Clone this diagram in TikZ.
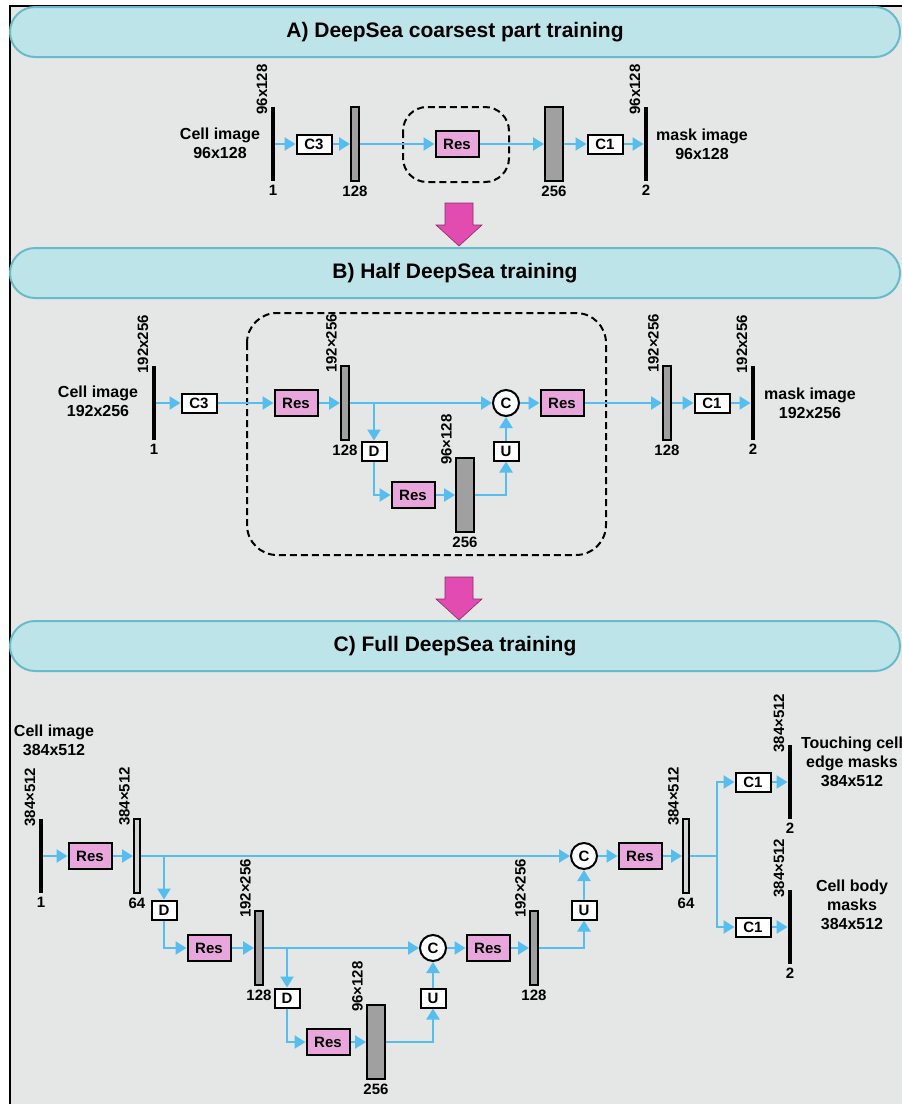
\documentclass[tikz,border=0pt]{standalone}
\usepackage{fontspec}
\setmainfont{Liberation Sans}
\usetikzlibrary{arrows.meta,positioning,calc}
\definecolor{paneback}{RGB}{229,230,230}
\definecolor{bannerfill}{RGB}{189,228,233}
\definecolor{bannerline}{RGB}{104,188,201}
\definecolor{resfill}{RGB}{232,166,220}
\definecolor{flowblue}{RGB}{86,190,238}
\definecolor{stagepink}{RGB}{226,75,176}
\definecolor{bargray}{RGB}{160,160,160}
\newcommand{\fsz}[2]{\bfseries\fontsize{#1}{#2}\selectfont}

\begin{document}
\begin{tikzpicture}[
    x=1pt, y=-1pt,
    banner/.style={draw=bannerline,line width=2pt,fill=bannerfill,rounded corners=25pt,minimum width=890pt,minimum height=50pt,font=\fsz{21}{24}},
    resblock/.style={draw,line width=2pt,fill=resfill,minimum width=43pt,minimum height=26pt,inner sep=0pt,font=\fsz{15}{17}},
    opbox/.style={draw,line width=2pt,fill=white,minimum width=35pt,minimum height=19pt,inner sep=0pt,font=\fsz{15}{17}},
    sampbox/.style={opbox,minimum width=25pt},
    catnode/.style={circle,draw,line width=2pt,fill=white,minimum size=26pt,inner sep=0pt,font=\fsz{15}{17}},
    fmap/.style={draw,line width=2pt,fill=bargray,minimum width=#1,minimum height=74pt,inner sep=0pt},
    fmap/.default=8pt,
    ioline/.style={fill=black,minimum width=4.5pt,minimum height=74pt,inner sep=0pt},
    dimlabel/.style={rotate=90,anchor=south west,inner sep=0pt,font=\fsz{15}{17}},
    sizenum/.style={inner sep=0pt,font=\fsz{15}{17}},
    labeltext/.style={align=center,inner sep=0pt,font=\fsz{16}{19}},
    flowarrow/.style={draw=flowblue,line width=2.3pt,-{Triangle[length=11pt,width=13pt]}},
    dashbox/.style={draw,dash pattern=on 7pt off 4pt,line width=2pt}
]
\useasboundingbox (0,0) rectangle (902,1104);
\clip (0,0) rectangle (902,1104);
\fill[paneback] (10,6) rectangle (910,1110);
\draw[line width=2.5pt] (10,1110) -- (10,6) -- (910,6);

% stage banners
\node[banner] (stageA) at (455,32) {A) DeepSea coarsest part training};
\node[banner] (stageB) at (455,273) {B) Half DeepSea training};
\node[banner] (stageC) at (455,646) {C) Full DeepSea training};
\filldraw[fill=stagepink,draw=stagepink!60!black,line width=0.6pt]
  (445,203) -- (473,203) -- (473,225) -- (482,225) -- (459,246) -- (436,225) -- (445,225) -- cycle;
\filldraw[fill=stagepink,draw=stagepink!60!black,line width=0.6pt]
  (445,577) -- (473,577) -- (473,599) -- (482,599) -- (459,620) -- (436,599) -- (445,599) -- cycle;

% A) coarsest part
\draw[dashbox,rounded corners=24pt] (403,107) rectangle (509,182);
\node[ioline] (inA) at (273,144) {};
\node[opbox] (c3A) at (314,144) {C3};
\node[fmap] (b1A) at (355,144) {};
\node[resblock] (resA) at (457,144) {Res};
\node[fmap=18pt] (b2A) at (554,144) {};
\node[opbox] (c1A) at (605,144) {C1};
\node[ioline] (outA) at (646,144) {};
\node[labeltext] (cellA) at (220,143) {Cell image\\96x128};
\node[labeltext] (maskA) at (702,144) {mask image\\96x128};
\node[dimlabel] at ($(inA.north west)+(-3,8)$) {96x128};
\node[dimlabel] at ($(outA.north west)+(-3,8)$) {96x128};
\node[sizenum,below=4pt of inA] {1};
\node[sizenum,below=4pt of b1A] {128};
\node[sizenum,below=4pt of b2A] {256};
\node[sizenum,below=4pt of outA] {2};
\draw[flowarrow] (inA) -- (c3A);
\draw[flowarrow] (c3A) -- (b1A);
\draw[flowarrow] (b1A) -- (resA);
\draw[flowarrow] (resA) -- (b2A);
\draw[flowarrow] (b2A) -- (c1A);
\draw[flowarrow] (c1A) -- (outA);

% B) half network
\draw[dashbox,rounded corners=30pt] (247,313) rectangle (606,555);
\node[ioline] (inB) at (154,403) {};
\node[opbox] (c3B) at (199,403) {C3};
\node[resblock] (res1B) at (296,403) {Res};
\node[fmap] (b1B) at (345,403) {};
\node[sampbox] (dB) at (374,451) {D};
\node[resblock] (res2B) at (413,495) {Res};
\node[fmap=18pt] (b2B) at (465,495) {};
\node[sampbox] (uB) at (506,451) {U};
\node[catnode] (catB) at (506,403) {C};
\node[resblock] (res3B) at (562,403) {Res};
\node[fmap] (b3B) at (667,403) {};
\node[opbox] (c1B) at (712,403) {C1};
\node[ioline] (outB) at (753,403) {};
\node[labeltext] (cellB) at (98,401) {Cell image\\192x256};
\node[labeltext] (maskB) at (810,403) {mask image\\192x256};
\node[dimlabel] at ($(inB.north west)+(-3,8)$) {192x256};
\node[dimlabel] at ($(b1B.north west)+(-3,8)$) {192×256};
\node[dimlabel] at ($(b2B.north west)+(-3,8)$) {96×128};
\node[dimlabel] at ($(b3B.north west)+(-3,8)$) {192×256};
\node[dimlabel] at ($(outB.north west)+(-3,8)$) {192x256};
\node[sizenum,below=4pt of inB] {1};
\node[sizenum,below=4pt of b1B] {128};
\node[sizenum,below=4pt of b2B] {256};
\node[sizenum,below=4pt of b3B] {128};
\node[sizenum,below=4pt of outB] {2};
\draw[flowarrow] (inB) -- (c3B);
\draw[flowarrow] (c3B) -- (res1B);
\draw[flowarrow] (res1B) -- (b1B);
\draw[flowarrow] (b1B) -- (catB);
\draw[flowarrow] (dB |- b1B) -- (dB);
\draw[flowarrow] (dB) |- (res2B);
\draw[flowarrow] (res2B) -- (b2B);
\draw[flowarrow] (b2B) -| (uB);
\draw[flowarrow] (uB) -- (catB);
\draw[flowarrow] (catB) -- (res3B);
\draw[flowarrow] (res3B) -- (b3B);
\draw[flowarrow] (b3B) -- (c1B);
\draw[flowarrow] (c1B) -- (outB);

% C) full network
\node[ioline] (inC) at (41,856) {};
\node[resblock] (res1C) at (90,856) {Res};
\node[fmap=6pt,fill=bargray!45] (b1C) at (137,856) {};
\node[sampbox] (dC1) at (164,910) {D};
\node[resblock] (res2C) at (209,948) {Res};
\node[fmap] (b2C) at (259,948) {};
\node[sampbox] (dC2) at (287,998) {D};
\node[resblock] (res3C) at (328,1042) {Res};
\node[fmap=18pt] (b3C) at (376,1042) {};
\node[sampbox] (uC1) at (433,998) {U};
\node[catnode] (catC1) at (433,948) {C};
\node[resblock] (res4C) at (488,948) {Res};
\node[fmap] (b4C) at (534,948) {};
\node[sampbox] (uC2) at (584,910) {U};
\node[catnode] (catC2) at (584,856) {C};
\node[resblock] (res5C) at (640,856) {Res};
\node[fmap=6pt,fill=bargray!45] (b5C) at (686,856) {};
\coordinate (splitC) at (717,856);
\node[opbox] (c1C1) at (753,782) {C1};
\node[opbox] (c1C2) at (753,927) {C1};
\node[ioline] (outC1) at (790,782) {};
\node[ioline] (outC2) at (790,927) {};
\node[labeltext] (cellC) at (54,740) {Cell image\\384x512};
\node[labeltext] (edgeC) at (852,762) {Touching cell\\edge masks\\384x512};
\node[labeltext] (bodyC) at (852,905) {Cell body\\masks\\384x512};
\node[dimlabel] at ($(inC.north west)+(-3,8)$) {384×512};
\node[dimlabel] at ($(b1C.north west)+(-3,8)$) {384×512};
\node[dimlabel] at ($(b2C.north west)+(-3,8)$) {192×256};
\node[dimlabel] at ($(b3C.north west)+(-3,8)$) {96×128};
\node[dimlabel] at ($(b4C.north west)+(-3,8)$) {192×256};
\node[dimlabel] at ($(b5C.north west)+(-3,8)$) {384×512};
\node[dimlabel] at ($(outC1.north west)+(-3,8)$) {384×512};
\node[dimlabel] at ($(outC2.north west)+(-3,8)$) {384×512};
\node[sizenum,below=4pt of inC] {1};
\node[sizenum,below=4pt of b1C] {64};
\node[sizenum,below=4pt of b2C] {128};
\node[sizenum,below=4pt of b3C] {256};
\node[sizenum,below=4pt of b4C] {128};
\node[sizenum,below=4pt of b5C] {64};
\node[sizenum,below=4pt of outC1] {2};
\node[sizenum,below=4pt of outC2] {2};
\draw[flowarrow] (inC) -- (res1C);
\draw[flowarrow] (res1C) -- (b1C);
\draw[flowarrow] (b1C) -- (catC2);
\draw[flowarrow] (dC1 |- b1C) -- (dC1);
\draw[flowarrow] (dC1) |- (res2C);
\draw[flowarrow] (res2C) -- (b2C);
\draw[flowarrow] (b2C) -- (catC1);
\draw[flowarrow] (dC2 |- b2C) -- (dC2);
\draw[flowarrow] (dC2) |- (res3C);
\draw[flowarrow] (res3C) -- (b3C);
\draw[flowarrow] (b3C) -| (uC1);
\draw[flowarrow] (uC1) -- (catC1);
\draw[flowarrow] (catC1) -- (res4C);
\draw[flowarrow] (res4C) -- (b4C);
\draw[flowarrow] (b4C) -| (uC2);
\draw[flowarrow] (uC2) -- (catC2);
\draw[flowarrow] (catC2) -- (res5C);
\draw[flowarrow] (res5C) -- (b5C);
\draw[draw=flowblue,line width=2.3pt] (b5C) -- (splitC);
\draw[flowarrow] (splitC) |- (c1C1);
\draw[flowarrow] (splitC) |- (c1C2);
\draw[flowarrow] (c1C1) -- (outC1);
\draw[flowarrow] (c1C2) -- (outC2);
\end{tikzpicture}
\end{document}
